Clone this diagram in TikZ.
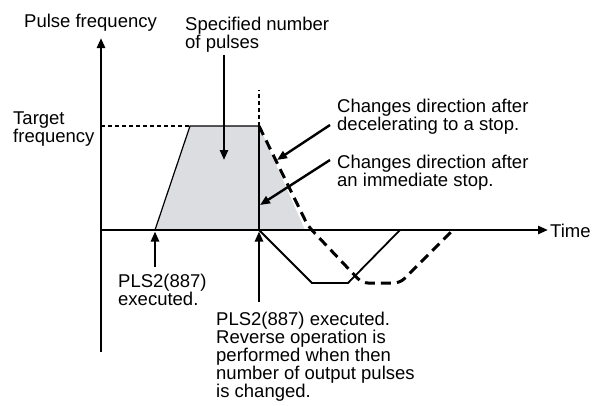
\documentclass[tikz,border=0pt]{standalone}
\usepackage{fontspec}
\setmainfont{Liberation Sans}
\usetikzlibrary{arrows.meta}
\definecolor{pulsegray}{RGB}{219,221,225}

\begin{document}
\begin{tikzpicture}[
  x=1pt,y=-1pt,
  lbl/.style={anchor=base west,align=left,inner sep=0pt,font=\fontsize{18.5}{18}\selectfont},
  axis/.style={-{Triangle[length=10pt,width=8pt]},line width=2.5pt},
  arr/.style={-{Triangle[length=10pt,width=8pt]},line width=2.4pt},
  thinline/.style={line width=1.2pt},
  guide/.style={line width=1.2pt,dash pattern=on 4pt off 3pt},
  decel/.style={line width=3pt,dash pattern=on 10pt off 6pt,rounded corners=6pt}
]
\useasboundingbox (0,0) rectangle (602,405);
% axes
\coordinate (o) at (101,230);
\coordinate (ybot) at (101,352);
\coordinate (ytop) at (101,38);
\coordinate (xend) at (548,230);
% pulse profile
\coordinate (start) at (155,230);
\coordinate (ramp) at (190,126);
\coordinate (rev) at (259,126);
\coordinate (revtop) at (259,90);
\coordinate (revax) at (259,230);
\coordinate (stop) at (305,230);
\fill[pulsegray] (start) -- (ramp) -- (rev) -- (stop) -- cycle;
\draw[thinline] (start) -- (ramp) -- (rev);
\draw[guide] (o |- rev) -- (ramp);
\draw[guide] (rev) -- (revtop);
% immediate stop, then reverse
\draw[line width=2.5pt] (rev) -- (revax);
\draw[line width=1.8pt] (revax) -- (312,283) -- (348,283) -- (400,230);
% decelerate, then reverse
\draw[decel] (rev) -- (308,226) -- (362,283) -- (400,283) -- (453,230);
\draw[axis] (ybot) -- (ytop);
\draw[axis] (o) -- (xend);

% labels (base = last line)
\node[lbl] (ylab) at (24,27) {Pulse frequency};
\node[lbl] (xlab) at (550,237) {Time};
\node[lbl] (spec) at (185,48) {Specified number\\of pulses};
\node[lbl] (tgt) at (13,142) {Target\\frequency};
\node[lbl] (chg1) at (337,130) {Changes direction after\\decelerating to a stop.};
\node[lbl] (chg2) at (337,186) {Changes direction after\\an immediate stop.};
\node[lbl] (exe1) at (118,305) {PLS2(887)\\executed.};
\node[lbl] (exe2) at (216,397) {PLS2(887) executed.\\Reverse operation is\\performed when then\\number of output pulses\\is changed.};

\coordinate (specfoot) at (224,55);
\coordinate (spectip) at (224,160);
\coordinate (chg1foot) at (330,125);
\coordinate (chg1tip) at (277,160);
\coordinate (chg2foot) at (330,160);
\coordinate (chg2tip) at (260,205);
\coordinate (exe1foot) at (155,267);
\coordinate (exe2foot) at (259,302);
\draw[arr] (specfoot) -- (spectip);
\draw[arr] (chg1foot) -- (chg1tip);
\draw[arr] (chg2foot) -- (chg2tip);
\draw[arr,shorten >=1.5pt] (exe1foot) -- (start);
\draw[arr,shorten >=1.5pt] (exe2foot) -- (revax);
\end{tikzpicture}
\end{document}
